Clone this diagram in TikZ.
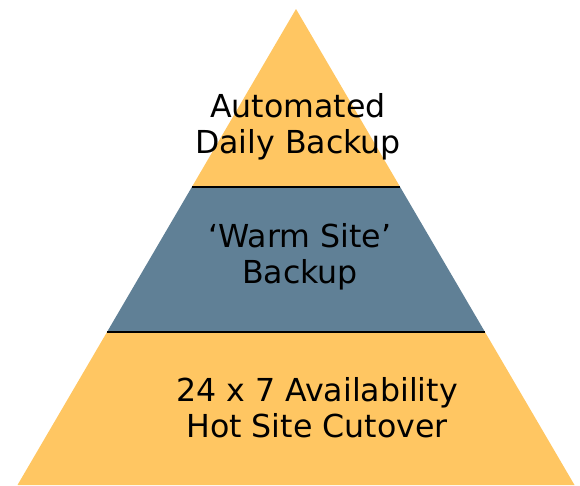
\documentclass[tikz,border=0pt]{standalone}
\usepackage{fontspec}
\setmainfont{DejaVu Sans}
\usetikzlibrary{calc}

\definecolor{pyrorange}{RGB}{255,198,98}
\definecolor{pyrslate}{RGB}{96,128,150}

\begin{document}
\begin{tikzpicture}[x=0.02cm, y=-0.02cm,
    % Styles
    tier/.style={draw=none},
    divider/.style={black, line width=1.2pt},
    label/.style={font=\fontsize{18}{20.5}\selectfont, align=center, text=black, inner sep=0pt},
]

\useasboundingbox (0,0) rectangle (580,485);

% Outline of the pyramid
\coordinate (apex) at (296,9);
\coordinate (baseL) at (17.5,485);
\coordinate (baseR) at (574.5,485);

\coordinate (upL) at ($(apex)!0.374!(baseL)$);
\coordinate (upR) at ($(apex)!0.374!(baseR)$);
\coordinate (lowL) at ($(apex)!0.679!(baseL)$);
\coordinate (lowR) at ($(apex)!0.679!(baseR)$);

% Tiers
\fill[tier, pyrorange] (apex) -- (upR) -- (upL) -- cycle;
\fill[tier, pyrslate] (upL) -- (upR) -- (lowR) -- (lowL) -- cycle;
\fill[tier, pyrorange] (lowL) -- (lowR) -- (baseR) -- (baseL) -- cycle;

\draw[divider] (upL) -- (upR);
\draw[divider] (lowL) -- (lowR);

% Labels
\node[label] (daily) at (298,127) {Automated\\Daily Backup};
\node[label] (warm) at (300,257) {‘Warm Site’\\Backup};
\node[label] (hot) at (317,408) {24 x 7 Availability\\Hot Site Cutover};

\end{tikzpicture}
\end{document}
